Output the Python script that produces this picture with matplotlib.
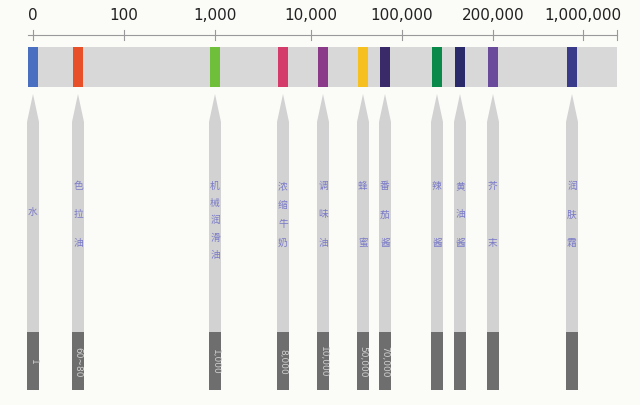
import matplotlib.pyplot as plt
from matplotlib.patches import Rectangle, Polygon

plt.rcParams['font.family'] = ['Noto Sans CJK SC', 'DejaVu Sans']

# scale along the top
scale_labels = ['0', '100', '1,000', '10,000', '100,000', '200,000', '1,000,000']
scale_pos = [33, 124, 215, 311, 402, 493, 583]

# liquids (pencil strips)
names = ['水', '色拉油', '机械润滑油', '浓缩牛奶', '调味油', '蜂蜜', '番茄酱',
         '辣酱', '黄油酱', '芥末', '润肤霜']
values = ['1', '60~80', '1,000', '8,000', '10,000', '50,000', '70,000',
          '', '', '', '']
strip_x = [33, 78, 215, 283, 323, 363, 385, 437, 460, 493, 572]
colors = ['#4a6fc0', '#e8502a', '#6fbf3a', '#d43a6a', '#8b3a8a', '#f5c020',
          '#3a2a6a', '#0a8a4a', '#2a2a6a', '#6a4a9a', '#3a3a8a']

fig = plt.figure(figsize=(6.4, 4.05), dpi=100)
fig.patch.set_facecolor('#fbfcf8')
ax = fig.add_axes([0, 0, 1, 1])
ax.set_xlim(0, 640)
ax.set_ylim(405, 0)
ax.axis('off')

# scale line and ticks
ax.plot([28, 617], [35, 35], color='#999999', lw=0.8)
for p in scale_pos + [617]:
    ax.plot([p, p], [30, 40], color='#999999', lw=0.8)
for lab, p in zip(scale_labels, scale_pos):
    ax.text(p, 16, lab, ha='center', va='center', fontsize=11, color='#222222',
            family='DejaVu Sans')

# colour bar
ax.add_patch(Rectangle((28, 47), 589, 40, color='#d8d8d8', lw=0))
for x, c in zip(strip_x, colors):
    ax.add_patch(Rectangle((x - 5, 47), 10, 40, color=c, lw=0))

# pencils
w = 6
for x, name, val in zip(strip_x, names, values):
    ax.add_patch(Polygon([(x, 94), (x + w, 122), (x + w, 332), (x - w, 332),
                          (x - w, 122)], closed=True, color='#d2d2d2', lw=0))
    ax.add_patch(Rectangle((x - w, 332), 2 * w, 58, color='#6e6e6e', lw=0))
    n = len(name)
    if n == 1:
        ys = [212]
    else:
        end = 255 if n >= 5 else 243
        ys = [186 + (end - 186) * i / (n - 1) for i in range(n)]
    for ch, yy in zip(name, ys):
        ax.text(x, yy, ch, ha='center', va='center', fontsize=7, color='#7a7ac8')
    if val:
        ax.text(x, 362, val, ha='center', va='center', rotation=270,
                fontsize=6.5, color='#cfcfcf', family='DejaVu Sans')

fig.savefig('out.png', dpi=100, facecolor=fig.get_facecolor())
